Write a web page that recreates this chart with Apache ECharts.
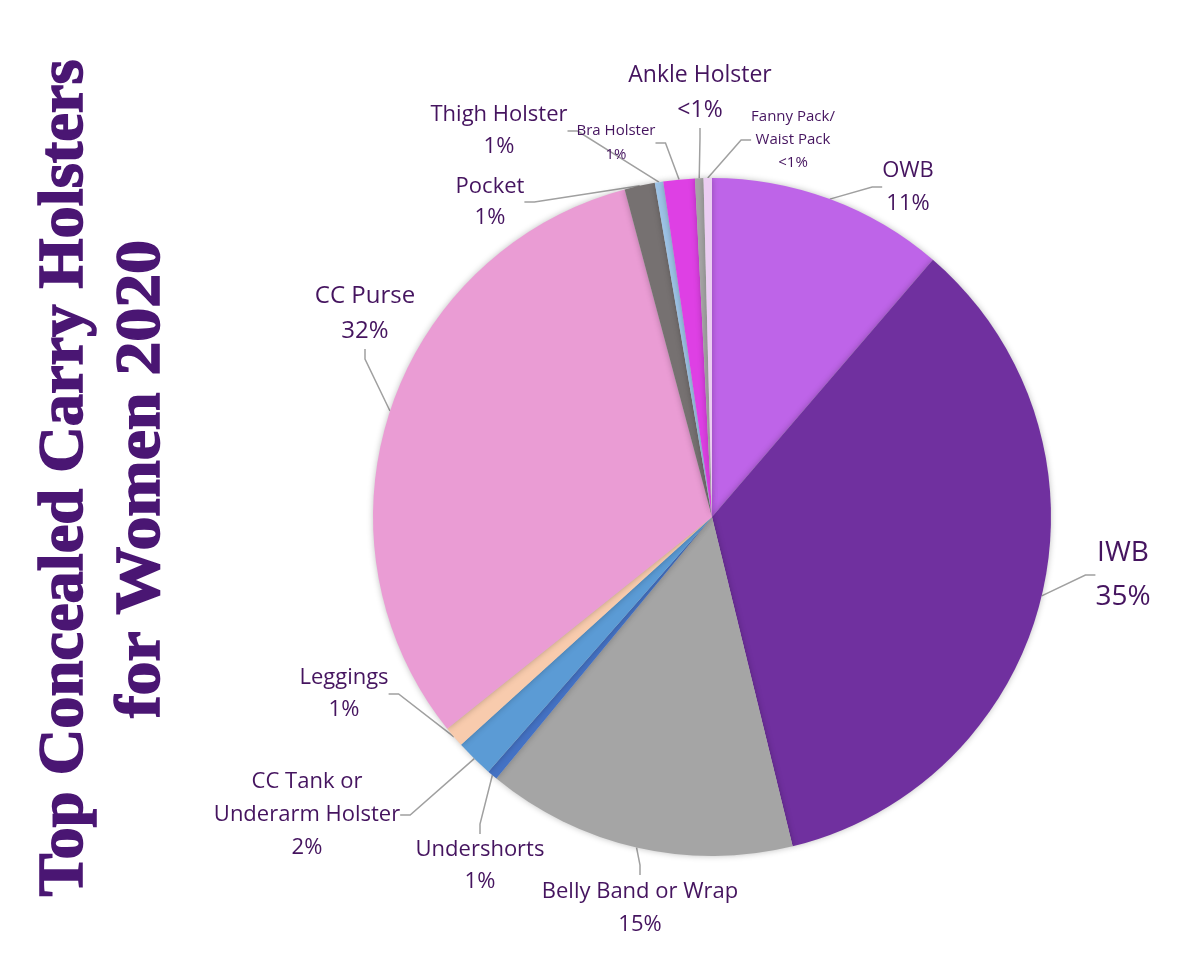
<!DOCTYPE html>
<html>
<head>
<meta charset="utf-8">
<script src="https://cdn.jsdelivr.net/npm/echarts@6/dist/echarts.min.js"></script>
<style>html,body{margin:0;padding:0;background:#fff}#c{width:1200px;height:956px}</style>
</head>
<body>
<div id="c"></div>
<script>
// ---- data ----
const categories = ["OWB","IWB","Belly Band or Wrap","Undershorts","CC Tank or\nUnderarm Holster","Leggings","CC Purse","Pocket","Thigh Holster","Bra Holster","Ankle Holster","Fanny Pack/\nWaist Pack"];
const values = [11.3, 34.9, 14.8, 0.5, 1.8, 1.0, 31.6, 1.45, 0.4, 1.5, 0.4, 0.4];
const pctLabels = ["11%","35%","15%","1%","2%","1%","32%","1%","1%","1%","<1%","<1%"];
const titleLines = ["Top Concealed Carry Holsters", "for Women 2020"];

// ---- styles / layout ----
const colors = ["#BE64E8","#70309F","#A5A5A5","#4472C4","#5B9BD5","#F8CBAD","#EA9CD4","#767171","#9DC3E6","#DE40E4","#A5A5A5","#EBCDF2"];
const labelFont = [22,28,22,22,22,22,24,22,22,15,23,15];
const labelLH = [33,44,33,32,33,32,35,31,32,24,35,23];
const labelPos = [[908,187],[1123,575],[640,908],[480,866],[307,815],[344,694],[365,314],[490,202],[499,131],[616,143],[700,93],[793,140]];
const textColor = "#45145F";
const fontFam = "'Open Sans', 'Noto Sans', sans-serif";
const titleFont = "bold 64px 'Liberation Serif', 'DejaVu Serif', serif";
const titleColor = "#4A1673";
const titleTargetLen = [837, 478];
const titleCenter = [[65, 478], [142, 479]];

function measure(text, font) {
  const cv = document.createElement('canvas').getContext('2d');
  cv.font = font;
  return cv.measureText(text).width;
}

const data = categories.map((n, i) => ({
  name: n,
  value: values[i],
  itemStyle: { color: colors[i] },
  label: { fontSize: labelFont[i], lineHeight: labelLH[i] }
}));

const graphics = titleLines.map((t, i) => {
  const w = measure(t, titleFont);
  return {
    type: 'text', x: titleCenter[i][0], y: titleCenter[i][1], rotation: Math.PI / 2,
    scaleX: titleTargetLen[i] / w, scaleY: 1,
    style: { text: t, fill: titleColor, stroke: titleColor, lineWidth: 1.6,
      align: 'center', verticalAlign: 'middle', font: titleFont }
  };
});

const chart = echarts.init(document.getElementById('c'), null, { renderer: 'canvas' });
chart.setOption({
  backgroundColor: '#ffffff',
  animation: false,
  graphic: graphics,
  series: [{
    type: 'pie',
    center: [712, 517],
    radius: [0, 339],
    startAngle: 90,
    clockwise: true,
    avoidLabelOverlap: false,
    data: data,
    itemStyle: { borderWidth: 0, shadowBlur: 6, shadowColor: 'rgba(0,0,0,0.25)' },
    label: {
      show: true,
      position: 'outside',
      color: textColor,
      fontFamily: fontFam,
      align: 'center',
      formatter: p => p.name + '\n' + pctLabels[p.dataIndex]
    },
    labelLine: { show: true, length: 15, length2: 10, lineStyle: { color: '#A0A0A0', width: 1.5 } },
    labelLayout: function (params) {
      const pos = labelPos[params.dataIndex];
      return { x: pos[0], y: pos[1], align: 'center', verticalAlign: 'middle' };
    }
  }]
});
</script>
</body>
</html>
